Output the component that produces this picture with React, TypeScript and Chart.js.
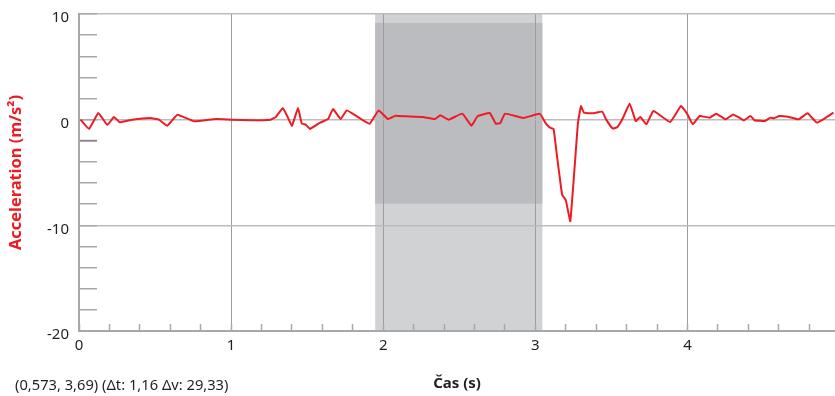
import React, { useEffect, useRef } from "react";
import { Chart, registerables } from "chart.js";

Chart.register(...registerables);

// ---- data ----
const TIME_S: number[] = [
  0.01, 0.066, 0.127, 0.186, 0.23, 0.268, 0.35, 0.47, 0.526, 0.58, 0.647, 0.757, 0.9, 1.0,
  1.14, 1.26, 1.294, 1.34, 1.37, 1.4, 1.44, 1.465, 1.49, 1.518, 1.58, 1.62, 1.64, 1.67, 1.72,
  1.76, 1.82, 1.91, 1.97, 2.03, 2.08, 2.15, 2.26, 2.34, 2.375, 2.43, 2.52, 2.58, 2.62, 2.7,
  2.74, 2.77, 2.8, 2.92, 3.03, 3.07, 3.1, 3.12, 3.14, 3.176, 3.2, 3.23, 3.28, 3.3, 3.32,
  3.377, 3.44, 3.465, 3.51, 3.54, 3.575, 3.62, 3.66, 3.69, 3.73, 3.776, 3.886, 3.958, 4.0,
  4.035, 4.08, 4.145, 4.19, 4.25, 4.3, 4.34, 4.37, 4.415, 4.44, 4.51, 4.545, 4.57, 4.605,
  4.66, 4.73, 4.79, 4.85, 4.91, 4.96,
];
const ACCEL: number[] = [
  0, -0.88, 0.63, -0.5, 0.25, -0.25, 0, 0.15, 0, -0.57, 0.47, -0.16, 0.06, 0,
  -0.06, 0, 0.25, 1.1, 0.3, -0.57, 1.1, -0.38, -0.47, -0.88, -0.32, -0.06, 0.1, 1.0, 0.06,
  0.88, 0.38, -0.38, 0.88, 0.06, 0.38, 0.32, 0.25, 0.06, 0.41, 0, 0.57, -0.57, 0.32, 0.63,
  -0.38, -0.32, 0.57, 0.16, 0.55, -0.38, -0.79, -0.88, -3.16, -7.1, -7.6, -9.6, -0.32, 1.28, 0.66,
  0.6, 0.76, 0.03, -0.85, -0.69, 0.13, 1.52, -0.13, 0.25, -0.44, 0.82, -0.22, 1.3, 0.5,
  -0.44, 0.35, 0.19, 0.57, 0.03, 0.5, 0.19, -0.06, 0.35, -0.06, -0.13, 0.19, 0.13, 0.35,
  0.28, 0.03, 0.6, -0.28, 0.19, 0.66,
];

const X_MIN = 0;
const X_MAX = 4.97;
const X_STEP = 0.2;
const Y_MIN = -20;
const Y_MAX = 10;
const Y_STEP = 2;
const Y_MAJOR = 10;

// selected interval (shaded)
const SEL_START = 1.947;
const SEL_END = 3.046;
const SEL_INNER_MIN = -7.95;
const SEL_INNER_MAX = 9.15;

const Y_TITLE = "Acceleration (m/s²)";
const X_TITLE = "Čas (s)";
const FOOTNOTE = "(0,573, 3,69) (Δt: 1,16 Δv: 29,33)";

const FONT = "'Noto Sans', sans-serif";
const TEXT = "#231f20";
const RED = "#ed1c24";
const AXIS = "#a6a8ab";

const near = (a: number, b: number) => Math.abs(a - b) < 1e-6;
const isInt = (v: number) => near(v, Math.round(v));

const selectionPlugin = {
  id: "selection",
  beforeDraw(chart: any) {
    const { ctx, chartArea, scales } = chart;
    const x = scales.x;
    const y = scales.y;
    const x0 = x.getPixelForValue(SEL_START);
    const x1 = x.getPixelForValue(SEL_END);
    ctx.save();
    ctx.fillStyle = "#d1d2d4";
    ctx.fillRect(x0, chartArea.top, x1 - x0, chartArea.bottom - chartArea.top);
    const yt = y.getPixelForValue(SEL_INNER_MAX);
    const yb = y.getPixelForValue(SEL_INNER_MIN);
    ctx.fillStyle = "#bbbcbf";
    ctx.fillRect(x0, yt, x1 - x0, yb - yt);
    ctx.restore();
  },
};

const footnotePlugin = {
  id: "footnote",
  afterDraw(chart: any) {
    const { ctx } = chart;
    ctx.save();
    ctx.font = `14.7px ${FONT}`;
    ctx.fillStyle = TEXT;
    ctx.textAlign = "left";
    ctx.textBaseline = "middle";
    ctx.fillText(FOOTNOTE, 15, 386);
    ctx.restore();
  },
};

export default function App() {
  const ref = useRef<HTMLCanvasElement | null>(null);

  useEffect(() => {
    if (!ref.current) return;
    const points = TIME_S.map((t, i) => ({ x: t, y: ACCEL[i] }));
    const chart = new Chart(ref.current, {
      type: "line",
      data: {
        datasets: [
          {
            data: points,
            borderColor: RED,
            borderWidth: 2,
            pointRadius: 0,
            tension: 0.1,
            fill: false,
          },
        ],
      },
      options: {
        animation: false,
        responsive: true,
        maintainAspectRatio: false,
        layout: { padding: { top: 14, left: 0, right: 0, bottom: 0 } },
        plugins: { legend: { display: false }, tooltip: { enabled: false } },
        scales: {
          x: {
            type: "linear",
            min: X_MIN,
            max: X_MAX,
            afterFit(s: any) {
              s.height = 65;
              s.paddingLeft = 0;
              s.paddingRight = 0;
            },
            ticks: {
              stepSize: X_STEP,
              includeBounds: false,
              autoSkip: false,
              maxRotation: 0,
              padding: 13,
              color: TEXT,
              font: { family: FONT, size: 15 },
              callback: (v: any) => (isInt(Number(v)) ? String(Math.round(Number(v))) : ""),
            },
            grid: {
              color: (c: any) =>
                c.tick && isInt(c.tick.value) && c.tick.value > 0 ? "#9d9d9d" : "rgba(0,0,0,0)",
              lineWidth: 1,
              drawTicks: true,
              tickLength: -7,
              tickColor: AXIS,
              tickWidth: 1.5,
            },
            border: { color: AXIS, width: 2 },
            title: {
              display: true,
              text: X_TITLE,
              color: TEXT,
              font: { family: FONT, size: 15, weight: "bold" },
              padding: { top: 0, bottom: 3 },
            },
          },
          y: {
            type: "linear",
            min: Y_MIN,
            max: Y_MAX,
            afterFit(s: any) {
              s.width = 79;
              s.paddingTop = 0;
              s.paddingBottom = 0;
            },
            ticks: {
              stepSize: Y_STEP,
              autoSkip: false,
              padding: 28,
              labelOffset: 4,
              color: TEXT,
              font: { family: FONT, size: 15 },
              callback: (v: any) => (near(Number(v) % Y_MAJOR, 0) ? String(v) : ""),
            },
            grid: {
              color: (c: any) =>
                c.tick && near(c.tick.value % Y_MAJOR, 0) && c.tick.value > Y_MIN
                  ? "#bcbcbc"
                  : "rgba(0,0,0,0)",
              lineWidth: 1.5,
              drawTicks: true,
              tickLength: -18,
              tickColor: (c: any) => (c.tick && near(c.tick.value, -2) ? "#8a8a8a" : AXIS),
              tickWidth: (c: any) => (c.tick && near(c.tick.value, -2) ? 2 : 1.5),
            },
            border: { color: AXIS, width: 2 },
            title: {
              display: true,
              text: Y_TITLE,
              color: RED,
              font: { family: FONT, size: 16.4, weight: "bold" },
              padding: { top: 6, bottom: 0 },
            },
          },
        },
      },
      plugins: [selectionPlugin, footnotePlugin],
    } as any);
    return () => chart.destroy();
  }, []);

  return (
    <div style={{ position: "fixed", left: 0, top: 0, width: 835, height: 396 }}>
      <canvas ref={ref} />
    </div>
  );
}
